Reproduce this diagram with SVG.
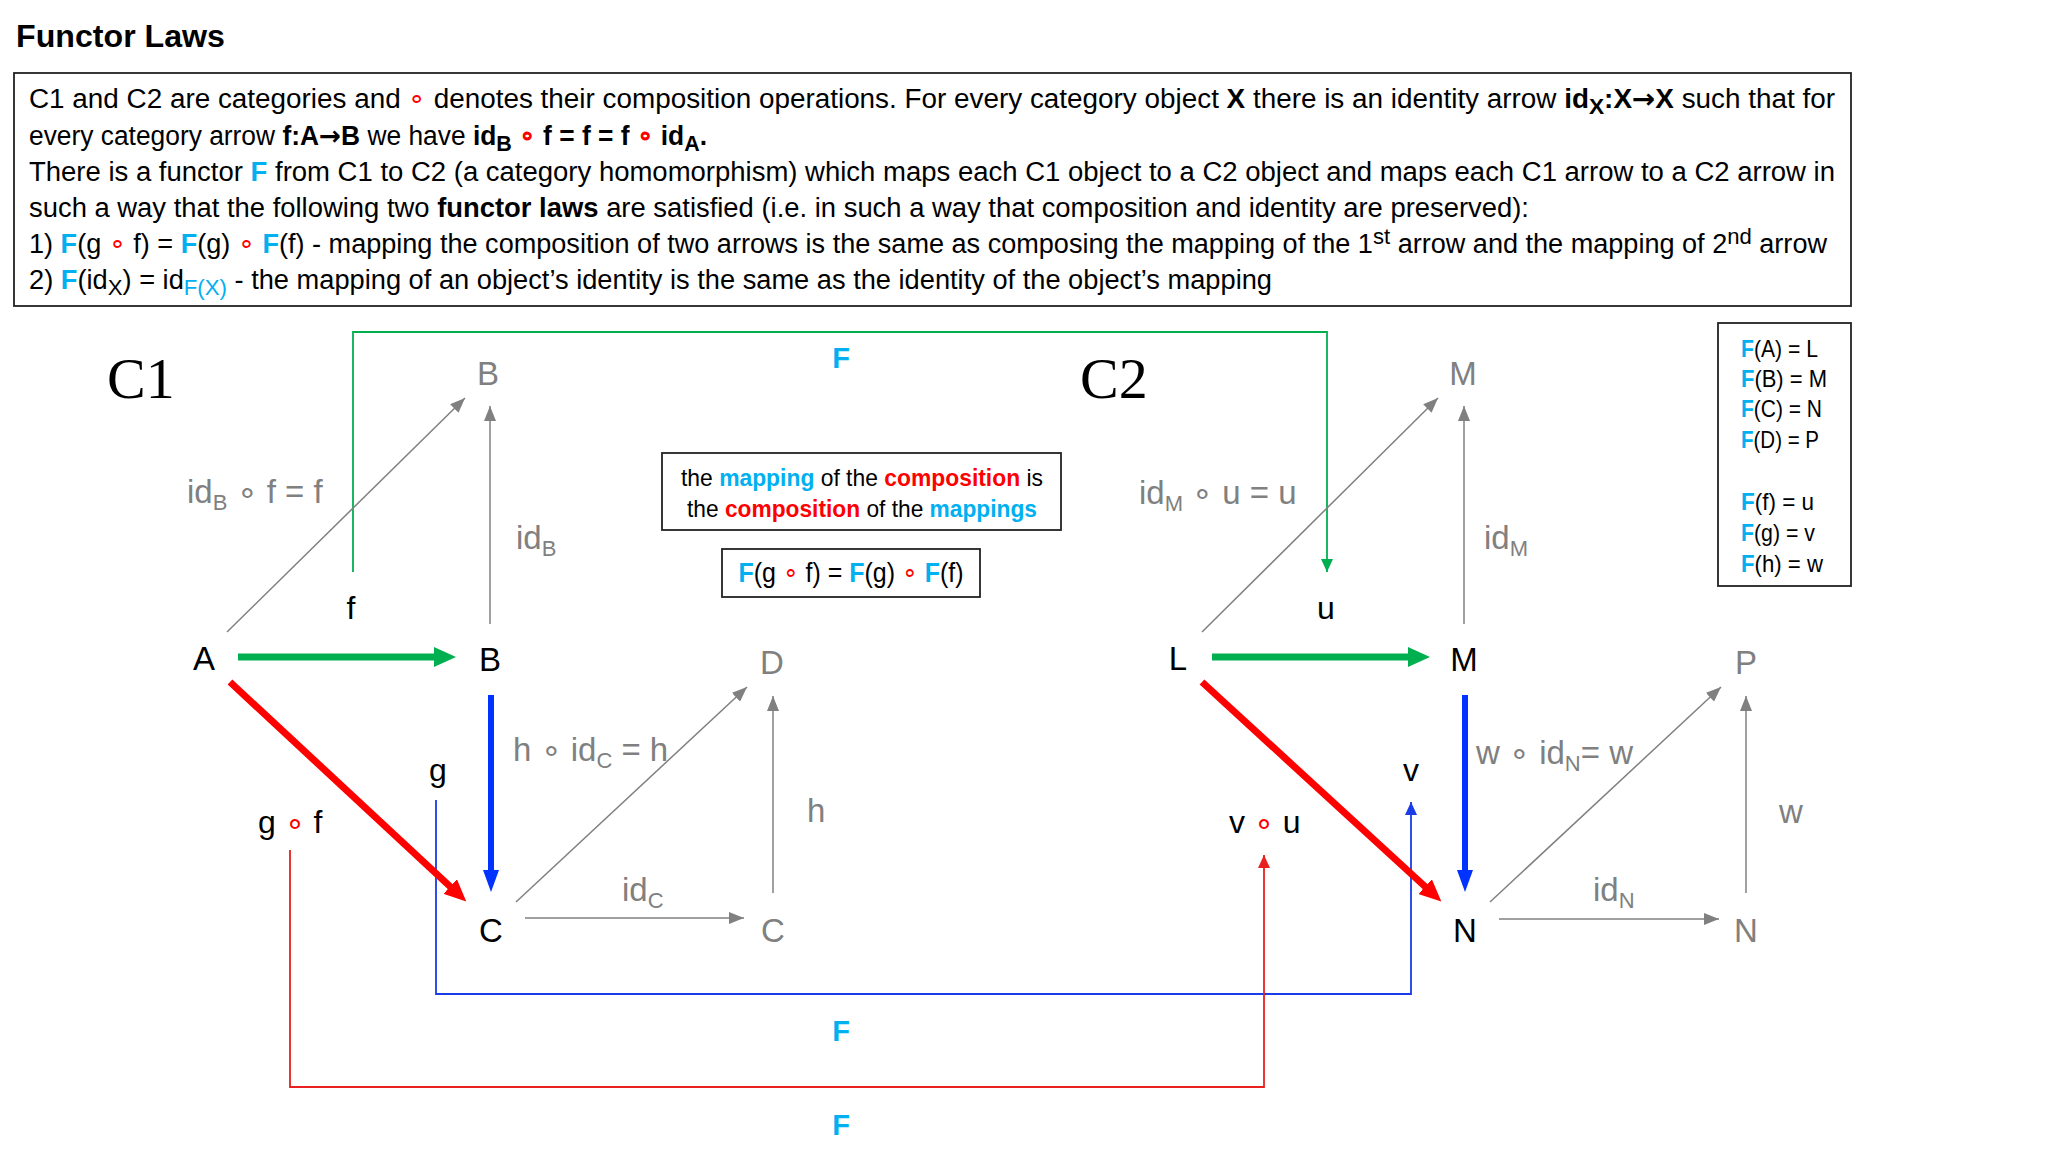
<svg xmlns="http://www.w3.org/2000/svg" width="2048" height="1152" viewBox="0 0 2048 1152">
<style>
text{font-family:"Liberation Sans","Noto Sans",sans-serif;}
.p{font-size:27px;fill:#000;}
.b{font-weight:bold;}
.r{fill:#ff0000;}
.ar{font-family:"DejaVu Sans",sans-serif;}
.fb{fill:#00b0f0;font-weight:bold;}
.fc{fill:#00b0f0;}
.node{font-size:33px;fill:#000;text-anchor:middle;}
.gnode{font-size:33px;fill:#808080;text-anchor:middle;}
.glab{font-size:33px;fill:#808080;}
.blab{font-size:32px;fill:#000;}
.sub{font-size:22px;}
.serif{font-family:"Liberation Serif","DejaVu Serif",serif;font-size:58px;fill:#000;}
.thin{stroke:#808080;stroke-width:1.5;fill:none;}
.box{fill:#fff;stroke:#222;stroke-width:1.8;}
.leg{font-size:24px;fill:#000;}
</style>
<defs>
<marker id="ga" markerUnits="userSpaceOnUse" markerWidth="16" markerHeight="12" refX="15" refY="6" orient="auto"><path d="M0,0 L15,6 L0,12 z" fill="#808080"/></marker>
<marker id="gr" markerUnits="userSpaceOnUse" markerWidth="24" markerHeight="20" refX="8" refY="10" orient="auto"><path d="M0,0 L22,10 L0,20 z" fill="#00b050"/></marker>
<marker id="rd" markerUnits="userSpaceOnUse" markerWidth="24" markerHeight="20" refX="8" refY="10" orient="auto"><path d="M0,0 L22,10 L0,20 z" fill="#ff0000"/></marker>
<marker id="bl" markerUnits="userSpaceOnUse" markerWidth="24" markerHeight="18" refX="8" refY="8" orient="auto"><path d="M0,0 L22,8 L0,16 z" fill="#0033ff"/></marker>
<marker id="tg" markerUnits="userSpaceOnUse" markerWidth="14" markerHeight="12" refX="13" refY="6" orient="auto"><path d="M0,0 L13,6 L0,12 z" fill="#00b050"/></marker>
<marker id="tb" markerUnits="userSpaceOnUse" markerWidth="14" markerHeight="12" refX="13" refY="6" orient="auto"><path d="M0,0 L13,6 L0,12 z" fill="#1a3be8"/></marker>
<marker id="tr" markerUnits="userSpaceOnUse" markerWidth="14" markerHeight="12" refX="13" refY="6" orient="auto"><path d="M0,0 L13,6 L0,12 z" fill="#e82020"/></marker>
</defs>
<rect width="2048" height="1152" fill="#fff"/>

<g id="title"><text x="16" y="47" font-size="31" font-weight="bold" textLength="209" lengthAdjust="spacingAndGlyphs">Functor Laws</text></g>

<g id="description">
<rect class="box" x="14" y="73" width="1837" height="233"/>
<text class="p" x="29" y="108" textLength="1806" lengthAdjust="spacingAndGlyphs">C1 and C2 are categories and <tspan class="r">∘</tspan> denotes their composition operations. For every category object <tspan class="b">X</tspan> there is an identity arrow <tspan class="b">id<tspan class="sub" dy="6">X</tspan><tspan dy="-6">:X</tspan><tspan class="ar">→</tspan>X</tspan> such that for</text>
<text class="p" x="29" y="145" textLength="678" lengthAdjust="spacingAndGlyphs">every category arrow <tspan class="b">f:A<tspan class="ar">→</tspan>B</tspan> we have <tspan class="b">id<tspan class="sub" dy="6">B</tspan><tspan dy="-6"> </tspan><tspan class="r">∘</tspan> f = f =  f <tspan class="r">∘</tspan> id<tspan class="sub" dy="6">A</tspan><tspan dy="-6">.</tspan></tspan></text>
<text class="p" x="29" y="181" textLength="1806" lengthAdjust="spacingAndGlyphs">There is a functor <tspan class="fb">F</tspan> from C1 to C2 (a category homomorphism) which maps each C1 object to a C2 object and maps each C1 arrow to a C2 arrow in</text>
<text class="p" x="29" y="217" textLength="1500" lengthAdjust="spacingAndGlyphs">such a way that the following two <tspan class="b">functor laws</tspan> are satisfied (i.e. in such a way that composition and identity are preserved):</text>
<text class="p" x="29" y="253" textLength="1798" lengthAdjust="spacingAndGlyphs">1) <tspan class="fb">F</tspan>(g <tspan class="r">∘</tspan> f) = <tspan class="fb">F</tspan>(g) <tspan class="r">∘</tspan> <tspan class="fb">F</tspan>(f) - mapping the composition of two arrows is the same as composing the mapping of the 1<tspan class="sub" dy="-9">st</tspan><tspan dy="9"> arrow and the mapping of 2</tspan><tspan class="sub" dy="-9">nd</tspan><tspan dy="9"> arrow</tspan></text>
<text class="p" x="29" y="289" textLength="1243" lengthAdjust="spacingAndGlyphs">2) <tspan class="fb">F</tspan>(id<tspan class="sub" dy="6">X</tspan><tspan dy="-6">) = id</tspan><tspan class="sub fc" dy="6">F(X)</tspan><tspan dy="-6"> - the mapping of an object’s identity is the same as the identity of the object’s mapping</tspan></text>
</g>

<g id="connectors">
<polyline points="353,572 353,332 1327,332 1327,572" fill="none" stroke="#00b050" stroke-width="1.8" marker-end="url(#tg)"/>
<polyline points="436,800 436,994 1411,994 1411,802" fill="none" stroke="#1a3be8" stroke-width="1.8" marker-end="url(#tb)"/>
<polyline points="290,850 290,1087 1264,1087 1264,855" fill="none" stroke="#e82020" stroke-width="1.8" marker-end="url(#tr)"/>
<line class="thin" x1="227" y1="632" x2="465" y2="398" marker-end="url(#ga)"/>
<line class="thin" x1="490" y1="624" x2="490" y2="406" marker-end="url(#ga)"/>
<line class="thin" x1="516" y1="902" x2="747" y2="687" marker-end="url(#ga)"/>
<line class="thin" x1="525" y1="918" x2="744" y2="918" marker-end="url(#ga)"/>
<line class="thin" x1="773" y1="893" x2="773" y2="696" marker-end="url(#ga)"/>
<line class="thin" x1="1202" y1="632" x2="1438" y2="398" marker-end="url(#ga)"/>
<line class="thin" x1="1464" y1="624" x2="1464" y2="406" marker-end="url(#ga)"/>
<line class="thin" x1="1490" y1="902" x2="1721" y2="687" marker-end="url(#ga)"/>
<line class="thin" x1="1499" y1="919" x2="1719" y2="919" marker-end="url(#ga)"/>
<line class="thin" x1="1746" y1="893" x2="1746" y2="696" marker-end="url(#ga)"/>
<line x1="238" y1="657" x2="442" y2="657" stroke="#00b050" stroke-width="7" marker-end="url(#gr)"/>
<line x1="1212" y1="657" x2="1416" y2="657" stroke="#00b050" stroke-width="7" marker-end="url(#gr)"/>
<line x1="491" y1="695" x2="491" y2="878" stroke="#0033ff" stroke-width="6" marker-end="url(#bl)"/>
<line x1="1465" y1="695" x2="1465" y2="878" stroke="#0033ff" stroke-width="6" marker-end="url(#bl)"/>
<line x1="230" y1="682" x2="456" y2="892" stroke="#ff0000" stroke-width="7" marker-end="url(#rd)"/>
<line x1="1202" y1="682" x2="1431" y2="892" stroke="#ff0000" stroke-width="7" marker-end="url(#rd)"/>
</g>

<g id="labels-C1">
<text class="serif" x="107" y="398">C1</text>
<text class="glab" x="187" y="503">id<tspan class="sub" dy="7">B</tspan><tspan dy="-7"> ∘ f = f</tspan></text>
<text class="glab" x="516" y="549">id<tspan class="sub" dy="7">B</tspan></text>
<text class="glab" x="513" y="761">h ∘ id<tspan class="sub" dy="7">C</tspan><tspan dy="-7"> = h</tspan></text>
<text class="glab" x="807" y="822">h</text>
<text class="glab" x="622" y="901">id<tspan class="sub" dy="7">C</tspan></text>
<text class="blab" x="351" y="619" text-anchor="middle">f</text>
<text class="blab" x="438" y="781" text-anchor="middle">g</text>
<text class="blab" x="258" y="833">g <tspan class="r">∘</tspan> f</text>
</g>

<g id="labels-C2">
<text class="serif" x="1080" y="398">C2</text>
<text class="glab" x="1139" y="504">id<tspan class="sub" dy="7">M</tspan><tspan dy="-7"> ∘ u = u</tspan></text>
<text class="glab" x="1484" y="549">id<tspan class="sub" dy="7">M</tspan></text>
<text class="glab" x="1476" y="764">w ∘ id<tspan class="sub" dy="7">N</tspan><tspan dy="-7">= w</tspan></text>
<text class="glab" x="1779" y="823">w</text>
<text class="glab" x="1593" y="901">id<tspan class="sub" dy="7">N</tspan></text>
<text class="blab" x="1326" y="619" text-anchor="middle">u</text>
<text class="blab" x="1411" y="781" text-anchor="middle">v</text>
<text class="blab" x="1229" y="833">v <tspan class="r">∘</tspan> u</text>
</g>

<g id="functor-labels">
<text class="fb" x="841" y="368" font-size="29" text-anchor="middle">F</text>
<text class="fb" x="841" y="1041" font-size="29" text-anchor="middle">F</text>
<text class="fb" x="841" y="1135" font-size="29" text-anchor="middle">F</text>
</g>

<g id="node-B-top"><text class="gnode" x="488" y="385">B</text></g>
<g id="node-A"><text class="node" x="204" y="670">A</text></g>
<g id="node-B"><text class="node" x="490" y="671">B</text></g>
<g id="node-D"><text class="gnode" x="772" y="674">D</text></g>
<g id="node-C"><text class="node" x="491" y="942">C</text></g>
<g id="node-C-gray"><text class="gnode" x="773" y="942">C</text></g>
<g id="node-M-top"><text class="gnode" x="1463" y="385">M</text></g>
<g id="node-L"><text class="node" x="1178" y="670">L</text></g>
<g id="node-M"><text class="node" x="1464" y="671">M</text></g>
<g id="node-P"><text class="gnode" x="1746" y="674">P</text></g>
<g id="node-N"><text class="node" x="1465" y="942">N</text></g>
<g id="node-N-gray"><text class="gnode" x="1746" y="942">N</text></g>

<g id="note-mapping">
<rect class="box" x="662" y="453" width="399" height="77"/>
<text x="862" y="486" font-size="24" text-anchor="middle" textLength="362" lengthAdjust="spacingAndGlyphs">the <tspan class="fb">mapping</tspan> of the <tspan class="r b">composition</tspan> is</text>
<text x="862" y="517" font-size="24" text-anchor="middle" textLength="350" lengthAdjust="spacingAndGlyphs">the <tspan class="r b">composition</tspan> of the <tspan class="fb">mappings</tspan></text>
</g>

<g id="note-formula">
<rect class="box" x="722" y="549" width="258" height="48"/>
<text x="851" y="582" font-size="27" text-anchor="middle" textLength="225" lengthAdjust="spacingAndGlyphs"><tspan class="fb">F</tspan>(g <tspan class="r">∘</tspan> f) = <tspan class="fb">F</tspan>(g) <tspan class="r">∘</tspan> <tspan class="fb">F</tspan>(f)</text>
</g>

<g id="legend">
<rect class="box" x="1718" y="323" width="133" height="263"/>
<text class="leg" x="1741" y="357" textLength="77" lengthAdjust="spacingAndGlyphs"><tspan class="fb">F</tspan>(A) = L</text>
<text class="leg" x="1741" y="387" textLength="86" lengthAdjust="spacingAndGlyphs"><tspan class="fb">F</tspan>(B) = M</text>
<text class="leg" x="1741" y="417" textLength="81" lengthAdjust="spacingAndGlyphs"><tspan class="fb">F</tspan>(C) = N</text>
<text class="leg" x="1741" y="448" textLength="78" lengthAdjust="spacingAndGlyphs"><tspan class="fb">F</tspan>(D) = P</text>
<text class="leg" x="1741" y="510" textLength="73" lengthAdjust="spacingAndGlyphs"><tspan class="fb">F</tspan>(f) = u</text>
<text class="leg" x="1741" y="541" textLength="74" lengthAdjust="spacingAndGlyphs"><tspan class="fb">F</tspan>(g) = v</text>
<text class="leg" x="1741" y="572" textLength="82" lengthAdjust="spacingAndGlyphs"><tspan class="fb">F</tspan>(h) = w</text>
</g>
</svg>
